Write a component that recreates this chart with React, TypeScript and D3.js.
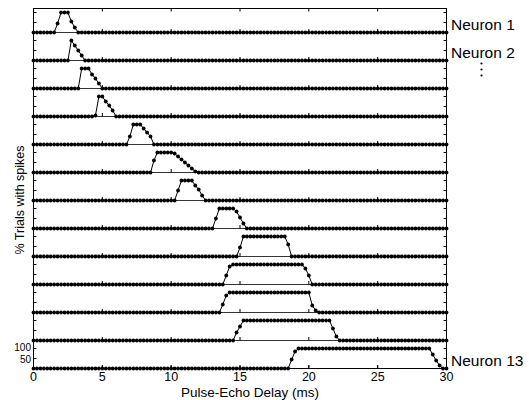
import React from "react";
import * as d3 from "d3";

// sampling step of the delay axis (ms)
const STEP = 0.25;
const MAX_DELAY = 30;
const delayTicks = [0, 5, 10, 15, 20, 25, 30];
const rowTickValues = [0, 50, 100];
const yTickLabels = ["100", "50"];

// first non-zero delay of every neuron (ms)
const onsets = [1.75, 2.75, 3.5, 4.5, 7.0, 8.75, 10.5, 13.25, 15.0, 14.0, 13.75, 14.75, 18.75];

// % trials with spikes, one value per STEP from the onset on
const responses = [
  [45, 100, 100, 100, 55, 25],
  [100, 75, 50, 25],
  [100, 100, 100, 70, 50, 25],
  [5, 100, 100, 75, 55, 30],
  [40, 100, 100, 100, 80, 60, 40],
  [60, 100, 100, 100, 100, 100, 95, 80, 65, 50, 35, 20, 5],
  [50, 100, 100, 100, 100, 75, 55, 25],
  [50, 100, 100, 100, 100, 100, 85, 55, 25],
  [45, 100, 100, 100, 100, 100, 100, 100, 100, 100, 100, 100, 100, 100, 60],
  [45, 90, 100, 100, 100, 100, 100, 100, 100, 100, 100, 100, 100, 100, 100, 100, 100, 100, 100, 100, 100, 100, 100, 80, 45],
  [40, 85, 100, 100, 100, 100, 100, 100, 100, 100, 100, 100, 100, 100, 100, 100, 100, 100, 100, 100, 100, 100, 100, 100, 100, 100, 35, 10],
  [40, 70, 100, 100, 100, 100, 100, 100, 100, 100, 100, 100, 100, 100, 100, 100, 100, 100, 100, 100, 100, 100, 100, 100, 100, 100, 100, 100, 60, 20],
  [45, 85,
    100, 100, 100, 100, 100, 100, 100, 100, 100, 100,
    100, 100, 100, 100, 100, 100, 100, 100, 100, 100,
    100, 100, 100, 100, 100, 100, 100, 100, 100, 100,
    100, 100, 100, 100, 100, 100, 100, 100, 100,
    70, 40, 15],
];

const neuronLabels = ["Neuron 1", "Neuron 2", "Neuron 13"];
const labelRows = [0, 1, 12];

const W = 529;
const H = 400;
const ROW = 140; // y units taken by one neuron
const N = responses.length;
const FONT = "'Liberation Sans', Arial, Helvetica, sans-serif";

const x = d3.scaleLinear().domain([0, MAX_DELAY]).range([33.5, 446.5]);
const y = d3.scaleLinear().domain([0, (N - 1) * ROW + 120]).range([368.5, 8.5]);

const grid = d3.range(0, MAX_DELAY + STEP / 2, STEP);

const rowOffset = (k: number) => (N - 1 - k) * ROW;

const series = responses.map((resp, k) =>
  grid.map((t) => {
    const i = Math.round((t - onsets[k]) / STEP);
    const v = i >= 0 && i < resp.length ? resp[i] : 0;
    return { t, v: rowOffset(k) + v };
  })
);

const line = d3
  .line<{ t: number; v: number }>()
  .x((d) => x(d.t))
  .y((d) => y(d.v));

export default function App() {
  const [x0, x1] = x.range();
  const [yb, yt] = y.range();
  const yTicks = d3.range(N).flatMap((k) => rowTickValues.map((v) => rowOffset(k) + v));

  return (
    <svg
      width={W}
      height={H}
      style={{ position: "absolute", left: 0, top: 0, background: "#fff" }}
      fontFamily={FONT}
    >
      {/* zero lines */}
      {d3.range(N).map((k) => (
        <line key={`z${k}`} x1={x0} x2={x1} y1={y(rowOffset(k))} y2={y(rowOffset(k))} stroke="#000" strokeWidth={0.8} />
      ))}
      {/* small ticks on every row */}
      {d3.range(N).map((k) =>
        delayTicks.map((d) => (
          <line key={`rt${k}-${d}`} x1={x(d)} x2={x(d)} y1={y(rowOffset(k))} y2={y(rowOffset(k)) - 3.5} stroke="#000" strokeWidth={1} />
        ))
      )}
      {/* frame */}
      <rect x={x0} y={yt} width={x1 - x0} height={yb - yt} fill="none" stroke="#000" strokeWidth={1} />
      {delayTicks.map((d) => (
        <g key={`xt${d}`}>
          <line x1={x(d)} x2={x(d)} y1={yt} y2={yt + 3} stroke="#000" />
          <line x1={x(d)} x2={x(d)} y1={yb} y2={yb - 3} stroke="#000" />
          <text x={x(d)} y={381} textAnchor="middle" fontSize={12.5}>
            {d}
          </text>
        </g>
      ))}
      {yTicks.map((v, i) => (
        <g key={`yt${i}`}>
          <line x1={x0} x2={x0 + 3} y1={y(v)} y2={y(v)} stroke="#000" />
          <line x1={x1} x2={x1 - 3} y1={y(v)} y2={y(v)} stroke="#000" />
        </g>
      ))}
      <text x={31} y={351} textAnchor="end" fontSize={10}>
        {yTickLabels[0]}
      </text>
      <text x={31} y={362.5} textAnchor="end" fontSize={10}>
        {yTickLabels[1]}
      </text>
      {/* data */}
      {series.map((s, k) => (
        <g key={`s${k}`}>
          <path d={line(s) ?? ""} fill="none" stroke="#000" strokeWidth={1} />
          {s.map((p, i) => (
            <circle key={i} cx={x(p.t)} cy={y(p.v)} r={1.9} fill="#000" />
          ))}
        </g>
      ))}
      {/* labels */}
      {neuronLabels.map((s, i) => (
        <text key={s} x={451} y={y(rowOffset(labelRows[i])) - 2.5} fontSize={15.5}>
          {s}
        </text>
      ))}
      {[0, 1, 2].map((i) => (
        <circle key={`dot${i}`} cx={481.5} cy={63.5 + i * 6} r={1.1} fill="#000" />
      ))}
      <text x={181} y={397} fontSize={13.5}>
        Pulse-Echo Delay (ms)
      </text>
      <text transform="translate(24,200) rotate(-90)" textAnchor="middle" fontSize={12.5}>
        % Trials with spikes
      </text>
    </svg>
  );
}
